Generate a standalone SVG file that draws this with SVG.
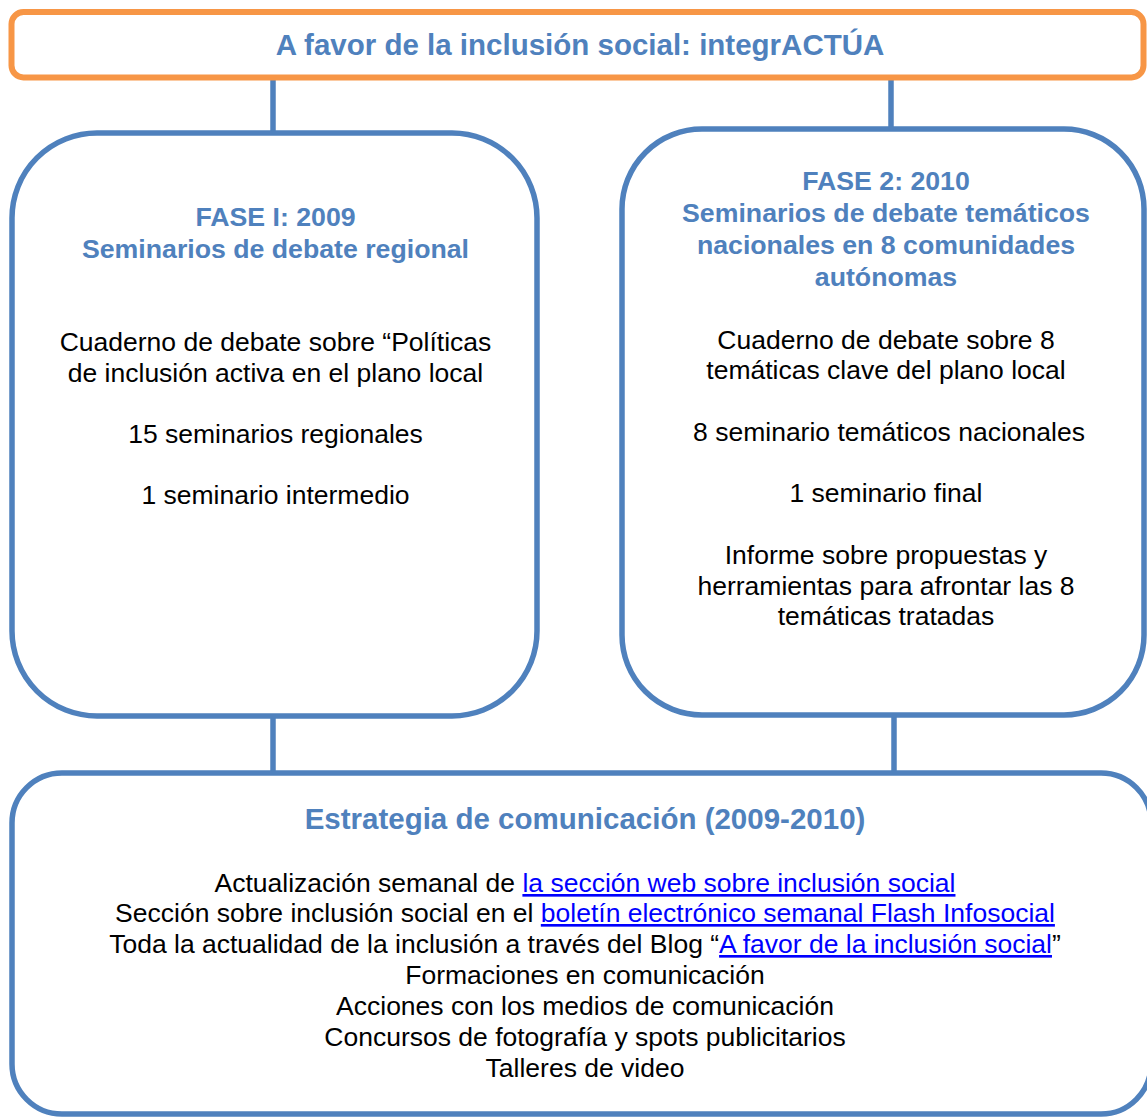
<svg xmlns="http://www.w3.org/2000/svg" width="1147" height="1117" viewBox="0 0 1147 1117">
<style>
.box{fill:#ffffff;stroke:#4F81BD;stroke-width:5.5}
.top{fill:#ffffff;stroke:#F79646;stroke-width:6}
.conn{stroke:#4F81BD;stroke-width:5.5;fill:none}
text{font-family:"Liberation Sans",Arial,sans-serif;text-anchor:middle}
.title{font-size:29.5px;font-weight:bold;fill:#4F81BD}
.head{font-size:26.7px;font-weight:bold;fill:#4F81BD}
.body{font-size:26.5px;fill:#000000}
.link{fill:#0000FF;text-decoration:underline}
</style>
<rect width="1147" height="1117" fill="#ffffff"/>
<g id="connectors">
<line class="conn" x1="273" y1="78" x2="273" y2="131"/>
<line class="conn" x1="891" y1="78" x2="891" y2="127"/>
<line class="conn" x1="273" y1="718" x2="273" y2="771"/>
<line class="conn" x1="894" y1="717" x2="894" y2="771"/>
</g>
<g id="node-top">
<rect class="top" x="11.5" y="12" width="1132" height="65.5" rx="12"/>
<text class="title" x="580" y="55">A favor de la inclusión social: integrACTÚA</text>
</g>
<g id="node-fase1">
<rect class="box" x="12" y="133" width="525" height="583" rx="85"/>
<text class="head" x="275.5" y="226">FASE I: 2009</text>
<text class="head" x="275.5" y="258">Seminarios de debate regional</text>
<text class="body" x="275.5" y="351">Cuaderno de debate sobre “Políticas</text>
<text class="body" x="275.5" y="382">de inclusión activa en el plano local</text>
<text class="body" x="275.5" y="443">15 seminarios regionales</text>
<text class="body" x="275.5" y="504">1 seminario intermedio</text>
</g>
<g id="node-fase2">
<rect class="box" x="622" y="129" width="522" height="586" rx="80"/>
<text class="head" x="886" y="190">FASE 2: 2010</text>
<text class="head" x="886" y="222">Seminarios de debate temáticos</text>
<text class="head" x="886" y="254">nacionales en 8 comunidades</text>
<text class="head" x="886" y="286">autónomas</text>
<text class="body" x="886" y="349">Cuaderno de debate sobre 8</text>
<text class="body" x="886" y="379">temáticas clave del plano local</text>
<text class="body" x="889" y="441">8 seminario temáticos nacionales</text>
<text class="body" x="886" y="502">1 seminario final</text>
<text class="body" x="886" y="564">Informe sobre propuestas y</text>
<text class="body" x="886" y="595">herramientas para afrontar las 8</text>
<text class="body" x="886" y="625">temáticas tratadas</text>
</g>
<g id="node-comunicacion">
<rect class="box" x="12" y="773" width="1139" height="341" rx="50"/>
<text class="title" x="585" y="829">Estrategia de comunicación (2009-2010)</text>
<text class="body" x="585" y="892">Actualización semanal de <tspan class="link">la sección web sobre inclusión social</tspan></text>
<text class="body" x="585" y="922">Sección sobre inclusión social en el <tspan class="link">boletín electrónico semanal Flash Infosocial</tspan></text>
<text class="body" x="585" y="953">Toda la actualidad de la inclusión a través del Blog “<tspan class="link">A favor de la inclusión social</tspan>”</text>
<text class="body" x="585" y="984">Formaciones en comunicación</text>
<text class="body" x="585" y="1015">Acciones con los medios de comunicación</text>
<text class="body" x="585" y="1046">Concursos de fotografía y spots publicitarios</text>
<text class="body" x="585" y="1077">Talleres de video</text>
</g>
</svg>
